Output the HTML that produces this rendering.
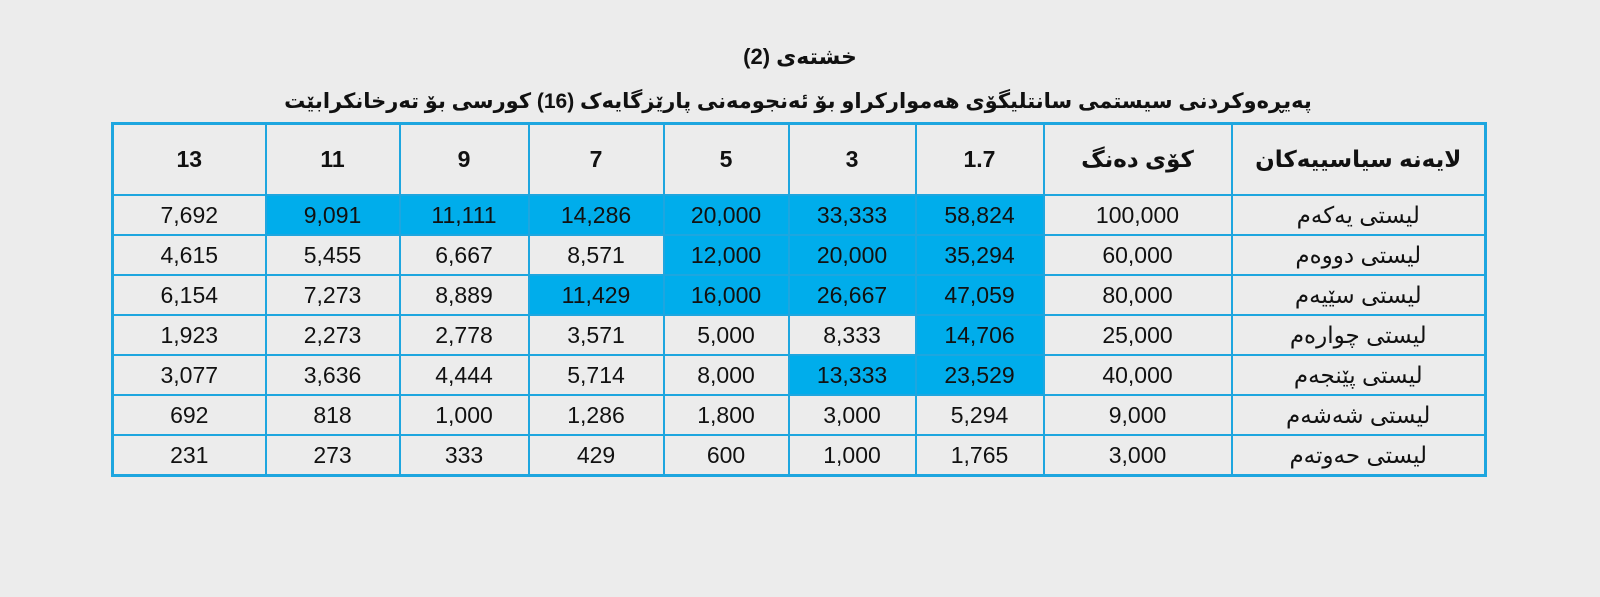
<!DOCTYPE html>
<html><head><meta charset="utf-8"><style>
html,body{margin:0;padding:0;width:1600px;height:597px;background:#ececec;overflow:hidden;font-family:"Liberation Sans","DejaVu Sans",sans-serif;}
.t1{position:absolute;left:0;width:1600px;top:44px;text-align:center;font-weight:bold;font-size:22px;color:#111;}
.t2{position:absolute;left:0;width:1596px;top:89px;text-align:center;font-weight:bold;font-size:21px;color:#111;direction:rtl;}
table{position:absolute;left:111px;top:122px;border-collapse:collapse;border:3px solid #1ea6df;table-layout:fixed;}
td{border:2px solid #1ea6df;text-align:center;font-size:23px;color:#111;height:38px;padding:0;}
tr.h td{height:69px;font-weight:bold;font-size:23px;}
.b{background:#00adeb;}
</style></head><body>
<div class="t1">خشتەی (2)</div>
<div class="t2">پەیڕەوکردنی سیستمی سانتلیگۆی هەموارکراو بۆ ئەنجومەنی پارێزگایەک (16) کورسی بۆ تەرخانکرابێت</div>
<table>
<colgroup><col style="width:153px"><col style="width:134px"><col style="width:129px"><col style="width:135px"><col style="width:125px"><col style="width:127px"><col style="width:128px"><col style="width:188px"><col style="width:254px"></colgroup>
<tr class="h"><td>13</td><td>11</td><td>9</td><td>7</td><td>5</td><td>3</td><td>1.7</td><td>کۆی دەنگ</td><td>لایەنە سیاسییەکان</td></tr>
<tr><td>7,692</td><td class="b">9,091</td><td class="b">11,111</td><td class="b">14,286</td><td class="b">20,000</td><td class="b">33,333</td><td class="b">58,824</td><td>100,000</td><td>لیستی یەکەم</td></tr>
<tr><td>4,615</td><td>5,455</td><td>6,667</td><td>8,571</td><td class="b">12,000</td><td class="b">20,000</td><td class="b">35,294</td><td>60,000</td><td>لیستی دووەم</td></tr>
<tr><td>6,154</td><td>7,273</td><td>8,889</td><td class="b">11,429</td><td class="b">16,000</td><td class="b">26,667</td><td class="b">47,059</td><td>80,000</td><td>لیستی سێیەم</td></tr>
<tr><td>1,923</td><td>2,273</td><td>2,778</td><td>3,571</td><td>5,000</td><td>8,333</td><td class="b">14,706</td><td>25,000</td><td>لیستی چوارەم</td></tr>
<tr><td>3,077</td><td>3,636</td><td>4,444</td><td>5,714</td><td>8,000</td><td class="b">13,333</td><td class="b">23,529</td><td>40,000</td><td>لیستی پێنجەم</td></tr>
<tr><td>692</td><td>818</td><td>1,000</td><td>1,286</td><td>1,800</td><td>3,000</td><td>5,294</td><td>9,000</td><td>لیستی شەشەم</td></tr>
<tr><td>231</td><td>273</td><td>333</td><td>429</td><td>600</td><td>1,000</td><td>1,765</td><td>3,000</td><td>لیستی حەوتەم</td></tr>
</table>
</body></html>
